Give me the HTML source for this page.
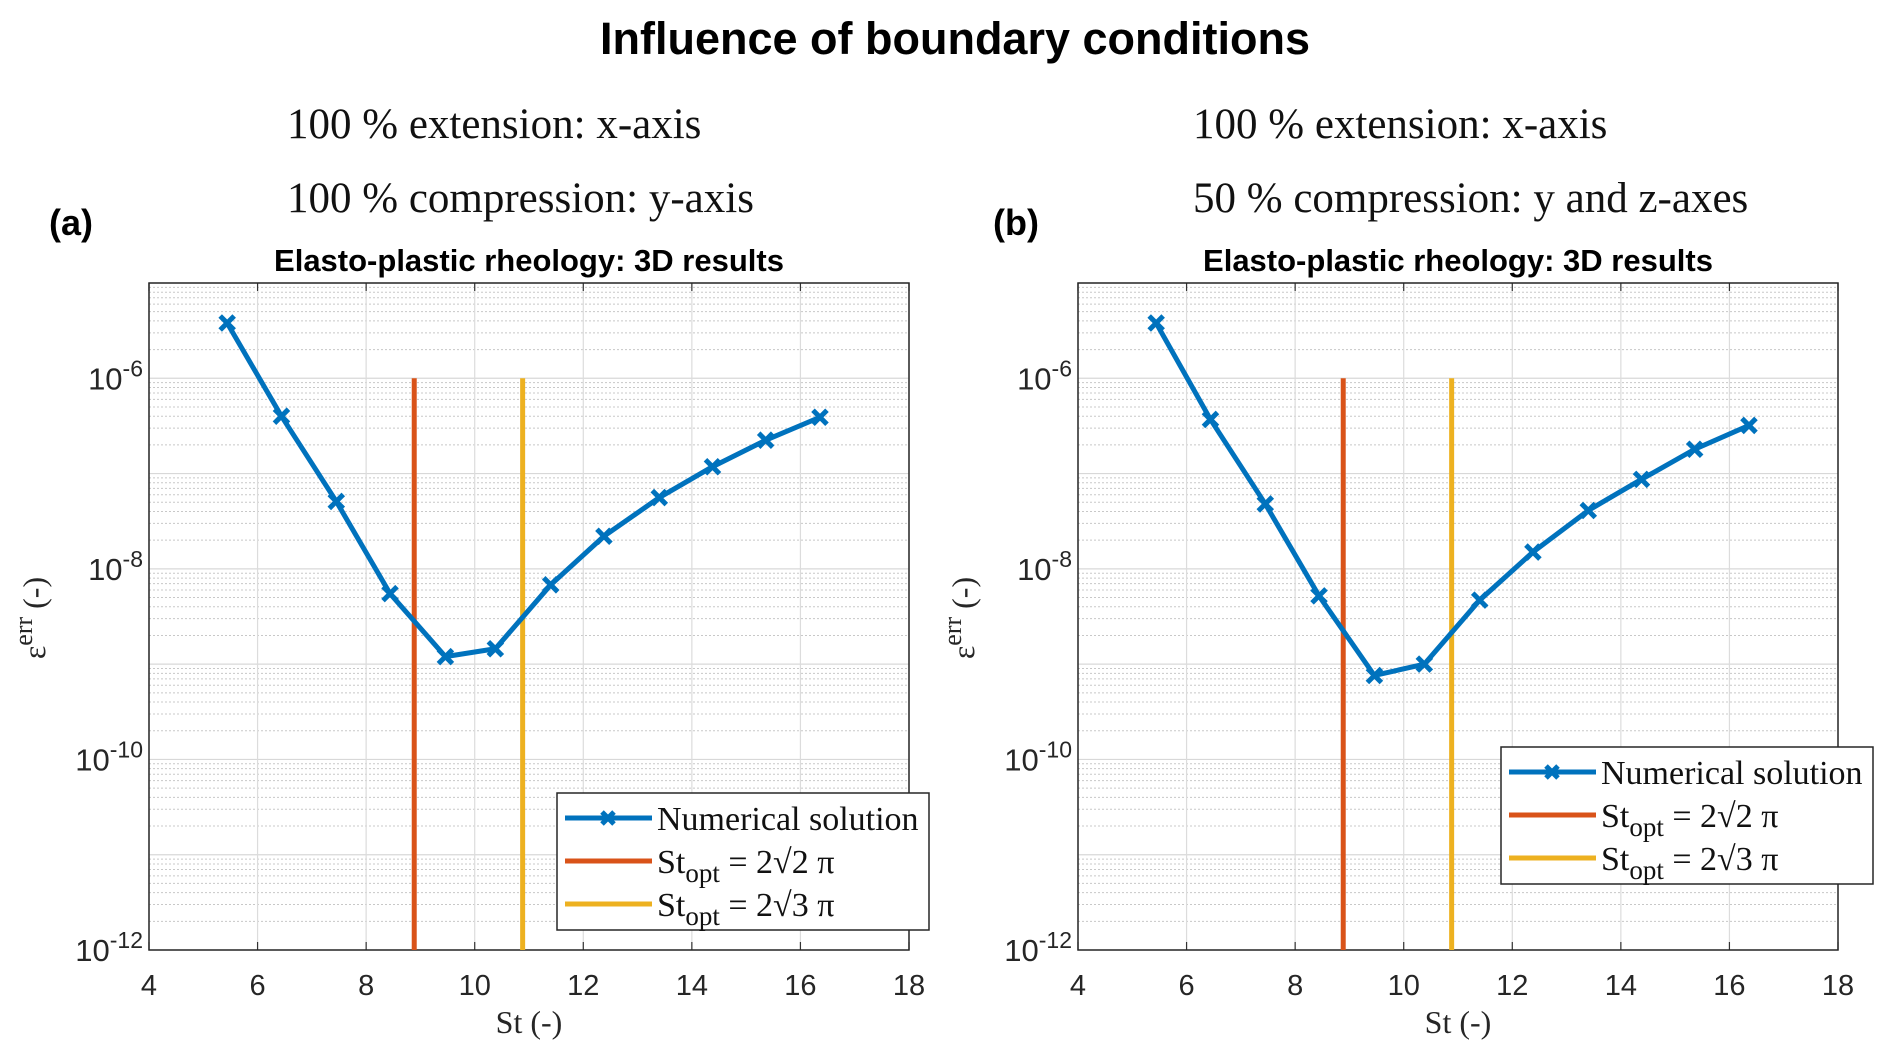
<!DOCTYPE html>
<html><head><meta charset="utf-8"><style>
body{margin:0;background:#fff;width:1892px;height:1056px;overflow:hidden}
svg{display:block}
</style></head><body>
<svg id="fig" width="1892" height="1056" xmlns="http://www.w3.org/2000/svg">
<text x="955" y="54" text-anchor="middle" font-family="Liberation Sans, sans-serif" font-weight="bold" font-size="45">Influence of boundary conditions</text>
<g font-family="Liberation Serif, serif" font-size="43" fill="#111">
<text x="287" y="138">100 % extension: x-axis</text>
<text x="287" y="212">100 % compression: y-axis</text>
<text x="1193" y="138">100 % extension: x-axis</text>
<text x="1193" y="212">50 % compression: y and z-axes</text>
</g>
<text x="49" y="235" font-family="Liberation Sans, sans-serif" font-weight="bold" font-size="36">(a)</text>
<text x="993" y="235" font-family="Liberation Sans, sans-serif" font-weight="bold" font-size="36">(b)</text>
</svg>
<script>
const xs = [5.44, 6.44, 7.45, 8.44, 9.46, 10.38, 11.4, 12.38, 13.4, 14.38, 15.36, 16.36];
const seriesA = [3.8e-6, 4.0e-7, 5.1e-8, 5.5e-9, 1.2e-9, 1.45e-9, 6.8e-9, 2.2e-8, 5.6e-8, 1.18e-7, 2.24e-7, 3.9e-7];
const seriesB = [3.8e-6, 3.7e-7, 4.8e-8, 5.2e-9, 7.6e-10, 1.0e-9, 4.7e-9, 1.5e-8, 4.1e-8, 8.7e-8, 1.8e-7, 3.2e-7];
const stOpt = [2*Math.SQRT2*Math.PI, 2*Math.sqrt(3)*Math.PI];
const xTicks = [4, 6, 8, 10, 12, 14, 16, 18];
const yTickExps = [-12, -10, -8, -6];
const legendLabels = ["Numerical solution", "2\u221A2", "2\u221A3"];

const NS = "http://www.w3.org/2000/svg";
const svg = document.getElementById('fig');
function mk(tag, attrs, parent){const e=document.createElementNS(NS,tag);for(const k in attrs)e.setAttribute(k,attrs[k]);(parent||svg).appendChild(e);return e;}

function panel(px, data, legendX, legendY, name){
  const L=px, R=px+760, T=283, B=950;
  const xMin=4,xMax=18,yMin=-12,yMax=-5;
  const sx=v=>L+(v-xMin)/(xMax-xMin)*(R-L);
  const sy=v=>B-(Math.log10(v)-yMin)/(yMax-yMin)*(B-T);
  const g=mk('g',{});
  
  
  mk('rect',{x:L,y:T,width:R-L,height:B-T,fill:'#fff'},g);
  for(let e=yMin;e<yMax;e++){for(let m=2;m<=9;m++){const y=sy(m*Math.pow(10,e));
    mk('line',{x1:L,x2:R,y1:y,y2:y,stroke:'#c8c8c8','stroke-width':1,'stroke-dasharray':'2,2'},g);}}
  for(let e=yMin;e<=yMax;e++){const y=sy(Math.pow(10,e));
    mk('line',{x1:L,x2:R,y1:y,y2:y,stroke:'#d8d8d8','stroke-width':1.2},g);}
  xTicks.forEach(t=>{const x=sx(t);mk('line',{x1:x,x2:x,y1:T,y2:B,stroke:'#dcdcdc','stroke-width':1.2},g);
    mk('line',{x1:x,x2:x,y1:B,y2:B-8,stroke:'#333','stroke-width':1.2},g);
    mk('line',{x1:x,x2:x,y1:T,y2:T+8,stroke:'#333','stroke-width':1.2},g);
    const tx=mk('text',{x:x,y:995,'text-anchor':'middle','font-family':'Liberation Sans, sans-serif','font-size':29,fill:'#262626'},g);
    tx.textContent=t;
    
    
  });
  yTickExps.forEach(e=>{const y=sy(Math.pow(10,e));
    const tx=mk('text',{x:L-6,y:y+11,'text-anchor':'end','font-family':'Liberation Sans, sans-serif','font-size':31,fill:'#262626'},g);
    tx.innerHTML='10<tspan dy="-13" font-size="23">'+e+'</tspan>';
    
    
  });
  mk('rect',{x:L,y:T,width:R-L,height:B-T,fill:'none',stroke:'#262626','stroke-width':1.5},g);
  const tt=mk('text',{x:(L+R)/2,y:271,'text-anchor':'middle','font-family':'Liberation Sans, sans-serif','font-weight':'bold','font-size':31},g);
  tt.textContent='Elasto-plastic rheology: 3D results';
  
  
  const xl=mk('text',{x:(L+R)/2,y:1033,'text-anchor':'middle','font-family':'Liberation Serif, serif','font-size':32,fill:'#262626'},g);
  xl.textContent='St (-)';
  
  
  const yl=mk('text',{x:0,y:0,'text-anchor':'middle','font-family':'Liberation Serif, serif','font-size':32,fill:'#262626',transform:'translate('+(L-104)+',618) rotate(-90)'},g);
  yl.innerHTML='\u03B5<tspan dy="-13" font-size="26">err</tspan><tspan dy="13"> (-)</tspan>';
  
  
  const cols=['#D95319','#EDB120'];
  stOpt.forEach((s,i)=>{const l=mk('line',{x1:sx(s),x2:sx(s),y1:sy(1e-6),y2:B,stroke:cols[i],'stroke-width':5},g);
    
    });
  const pts=xs.map((x,i)=>sx(x)+','+sy(data[i])).join(' ');
  const pl=mk('polyline',{points:pts,fill:'none',stroke:'#0072BD','stroke-width':5,'stroke-linejoin':'round'},g);
  
  
  xs.forEach((x,i)=>{const cx=sx(x),cy=sy(data[i]),d=7;
    const m=mk('path',{d:`M${cx-d},${cy-d}L${cx+d},${cy+d}M${cx-d},${cy+d}L${cx+d},${cy-d}`,stroke:'#0072BD','stroke-width':5},g);
    
    });
  const lg=mk('g',{},g);
  
  
  mk('rect',{x:legendX,y:legendY,width:372,height:137,fill:'#fff',stroke:'#262626','stroke-width':1.5},lg);
  const rowC=['#0072BD','#D95319','#EDB120'];
  for(let i=0;i<3;i++){const y=legendY+25+i*43;
    mk('line',{x1:legendX+8,x2:legendX+95,y1:y,y2:y,stroke:rowC[i],'stroke-width':5},lg);
    if(i===0){const cx=legendX+51;mk('path',{d:`M${cx-6},${y-6}L${cx+6},${y+6}M${cx-6},${y+6}L${cx+6},${y-6}`,stroke:'#0072BD','stroke-width':5},lg);}
    const t=mk('text',{x:legendX+100,y:y+12,'font-family':'Liberation Serif, serif','font-size':34,fill:'#111'},lg);
    if(i===0)t.textContent=legendLabels[0];
    else t.innerHTML='St<tspan dy="9" font-size="27">opt</tspan><tspan dy="-9"> = '+legendLabels[i]+' \u03C0</tspan>';
    
    
  }
}
panel(149, seriesA, 557, 793, 'plot-a');
panel(1078, seriesB, 1501, 747, 'plot-b');
</script>
</body></html>
